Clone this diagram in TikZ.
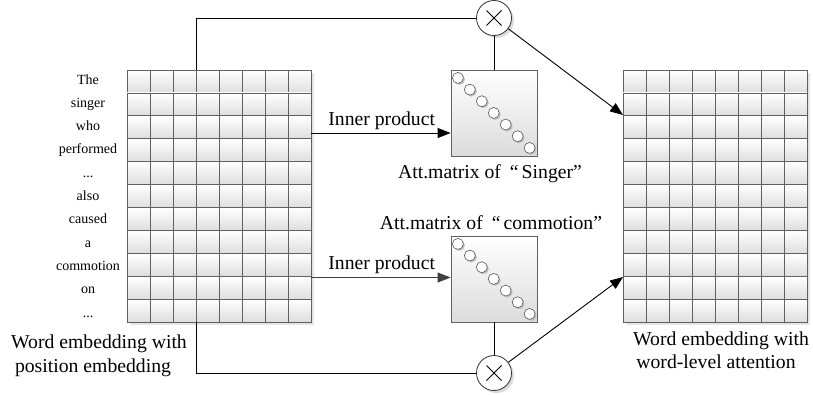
\documentclass[tikz,border=0pt]{standalone}
\usepackage{fontspec}
\setmainfont{Liberation Serif}
\usetikzlibrary{arrows.meta,calc}
\newcommand{\mydots}{...}
\begin{document}
\begin{tikzpicture}[x=1pt,y=-1pt,
  cell/.style={draw=black!62, line width=0.8pt, top color=white, bottom color=black!13},
  gridbox/.style={draw=none, inner sep=0, minimum width=184pt, minimum height=252pt, anchor=north west},
  attbox/.style={draw=black!62, line width=0.8pt, top color=white, bottom color=black!14, minimum size=86pt, inner sep=0},
  dot/.style={circle, draw=black!65, line width=0.6pt, fill=white, minimum size=11pt, inner sep=0},
  mult/.style={circle, draw=black!80, line width=0.8pt, fill=white, minimum size=35pt, inner sep=0},
  lbl/.style={font=\fontsize{19.7}{23}\selectfont, inner sep=0, anchor=base},
  wrd/.style={font=\fontsize{14}{16}\selectfont, inner sep=0, anchor=base},
  conn/.style={line width=0.9pt, black},
  arr/.style={conn, -{Triangle[length=13pt,width=10pt]}},
  shadowc/.style={fill=black!14, draw=none}
]
\useasboundingbox (0,0) rectangle (813,394);

% grids
\node[gridbox] (L) at (127,70) {};
\node[gridbox] (R) at (623,70) {};
\foreach \g in {L,R}{
  \fill[black!10] ($(\g.north west)+(3,3)$) rectangle ($(\g.south east)+(3,3)$);
  \begin{scope}[shift={(\g.north west)}]
    \foreach \i in {0,1,2,3,4,5,6,7}{
      \foreach \j in {0,1,2,3,4,5,6,7,8,9,10}{
        \path[cell] (\i*23,\j*22.909) rectangle ++(23,22.909);
      }
    }
  \end{scope}
}

% words
\foreach \w [count=\k from 0] in {The,singer,who,performed,{\mydots},also,caused,a,commotion,on,{\mydots}}{
  \node[wrd] (w\k) at (88,84+23.3*\k) {\w};
}

% attention matrices
\node[attbox] (A1) at (494,113) {};
\node[attbox] (A2) at (494,279) {};
\foreach \a in {A1,A2}{
  \foreach \t in {0,1,2,3,4,5,6}{
    \fill[black!25] ($(\a.north west)+(7.3+11.95*\t+1.5,8.3+11.67*\t+1.5)$) circle (5.5);
    \node[dot] (\a d\t) at ($(\a.north west)+(7.3+11.95*\t,8.3+11.67*\t)$) {};
  }
}

% multiply circles
\fill[shadowc] (496.5,20.5) circle (17.5);
\fill[shadowc] (496.5,375.5) circle (17.5);
\node[mult] (X1) at (494,18) {};
\node[mult] (X2) at (494,373) {};
\foreach \x in {X1,X2}{
  \draw[line width=0.9pt] ($(\x)+(-7.5,-7.5)$) -- ($(\x)+(7.5,7.5)$);
  \draw[line width=0.9pt] ($(\x)+(-7.5,7.5)$) -- ($(\x)+(7.5,-7.5)$);
}

% connectors
\coordinate (Lt) at ($(L.north west)+(69,0)$);
\coordinate (Lb) at ($(L.south west)+(69,0)$);
\draw[conn] (Lt) |- (X1);
\draw[conn] (Lb) |- (X2);
\draw[conn] (X1) -- (A1);
\draw[conn] (X2) -- (A2);
\coordinate (R1) at (623,115);
\coordinate (R2) at (623,277);
\draw[arr] (X1) -- (R1);
\draw[arr] (X2) -- (R2);
\coordinate (Lo1) at (311,133);
\coordinate (Lo2) at (311,277.5);
\draw[arr] (Lo1) -- (Lo1 -| A1.west);
\draw[arr,black!75] (Lo2) -- (Lo2 -| A2.west);

% labels
\node[lbl] (ip1) at (381.7,125) {Inner product};
\node[lbl] (ip2) at (381.7,269.3) {Inner product};
\node[lbl] (am1) at (490,178.3) {Att.matrix of\hspace{9pt}“\hspace{3pt}Singer”};
\node[lbl] (am2) at (491,229) {Att.matrix of\hspace{9pt}“\hspace{3pt}commotion”};
\node[lbl] (ll1) at (99,348) {Word embedding with};
\node[lbl] (ll2) at (93,372) {position embedding};
\node[lbl] (rl1) at (721,345.5) {Word embedding with};
\node[lbl] (rl2) at (716,368) {word-level attention};
\end{tikzpicture}
\end{document}
